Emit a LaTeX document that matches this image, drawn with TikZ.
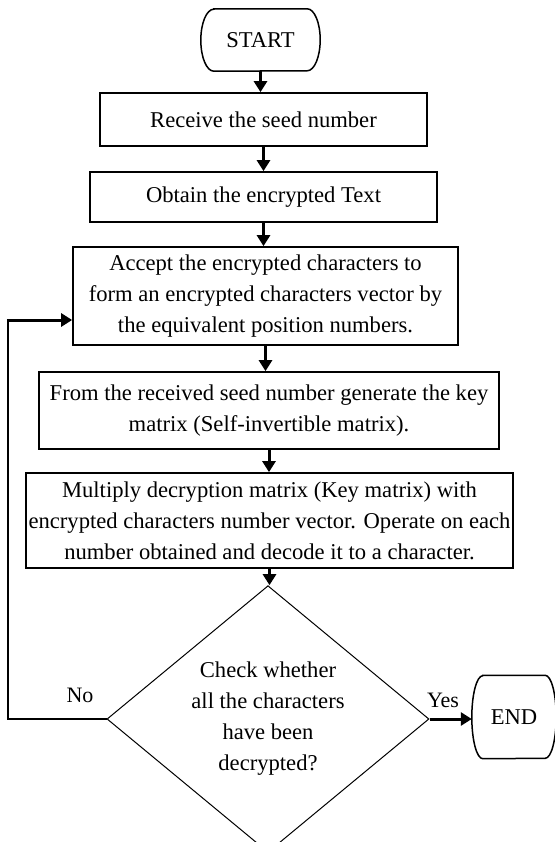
\documentclass[tikz,border=0pt]{standalone}
\usepackage{fontspec}
\setmainfont{Liberation Serif}
\usetikzlibrary{shapes.geometric,arrows.meta}
\begin{document}
\begin{tikzpicture}[x=1pt,y=-1pt,
  box/.style={draw, line width=1.7pt, rectangle, inner sep=0pt, align=center,
    font=\fontsize{22.6}{31}\selectfont},
  term/.style={draw=none, rectangle, inner sep=0pt,
    font=\fontsize{22.6}{26}\selectfont},
  termline/.style={line width=1.5pt},
  decision/.style={draw, line width=1pt, diamond, inner sep=0pt, align=center,
    font=\fontsize{22.6}{31}\selectfont},
  flow/.style={line width=3pt, -{Triangle[width=13pt,length=11pt]}},
  loopline/.style={line width=2.2pt},
  lbl/.style={font=\fontsize{22}{24}\selectfont, inner sep=0pt}]
\useasboundingbox (0,0) rectangle (554,842);

\node[term, minimum width=119pt, minimum height=62pt] (start) at (260.5,40) {START};
\draw[termline] ([xshift=13pt]start.north west) -- ([xshift=-13pt]start.north east)
  arc[start angle=90, end angle=-90, x radius=13pt, y radius=31pt]
  -- ([xshift=13pt]start.south west)
  arc[start angle=270, end angle=90, x radius=13pt, y radius=31pt] -- cycle;

\node[box, minimum width=327pt, minimum height=53pt] (b1) at (263.5,119.5)
  {Receive the seed number};
\node[box, minimum width=347pt, minimum height=50pt] (b2) at (263.5,197)
  {Obtain the encrypted Text};
\node[box, minimum width=385pt, minimum height=98pt] (b3) at (265.5,296)
  {Accept the encrypted characters to\\form an encrypted characters vector by\\the equivalent position numbers.};
\node[box, minimum width=460pt, minimum height=77pt] (b4) at (269,410.5)
  {From the received seed number generate the key\\matrix (Self-invertible matrix).};
\node[box, minimum width=487pt, minimum height=95pt] (b5) at (269.5,520.5)
  {Multiply decryption matrix (Key matrix) with\\encrypted characters number vector. Operate on each\\number obtained and decode it to a character.};
\node[decision, minimum width=322pt, minimum height=254pt] (dec) at (268,719)
  {Check whether\\all the characters\\have been\\decrypted?};

\node[term, minimum width=84pt, minimum height=83pt] (endn) at (514,717) {END};
\draw[termline] ([xshift=11pt]endn.north west) -- ([xshift=-11pt]endn.north east)
  arc[start angle=90, end angle=-90, x radius=11pt, y radius=41.5pt]
  -- ([xshift=11pt]endn.south west)
  arc[start angle=270, end angle=90, x radius=11pt, y radius=41.5pt] -- cycle;

\draw[flow] (start.south) -- (start.south |- b1.north);
\draw[flow] (b1.south) -- (b1.south |- b2.north);
\draw[flow] (b2.south) -- (b2.south |- b3.north);
\draw[flow] (b3.south) -- (b3.south |- b4.north);
\draw[flow] (b4.south) -- (b4.south |- b5.north);
\draw[flow] (b5.south) -- (b5.south |- dec.north);

\coordinate (lp1) at (8,719);
\coordinate (lp2) at (8,320);
\draw[loopline] (dec.west) -- (lp1) -- (lp2);
\draw[flow] ([xshift=-1.1pt]lp2) -- (lp2 -| b3.west);
\draw[flow] (dec.east) -- (dec.east -| endn.west);

\node[lbl] (no) at (80,695) {No};
\node[lbl] (yes) at (443,700) {Yes};
\end{tikzpicture}
\end{document}
